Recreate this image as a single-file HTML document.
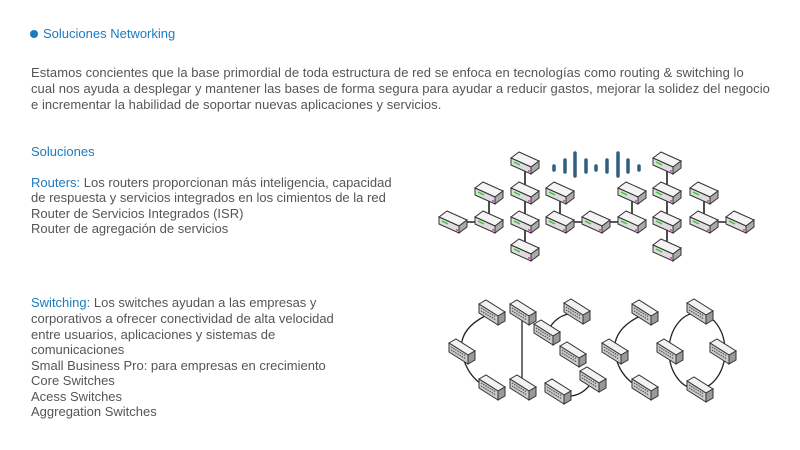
<!DOCTYPE html>
<html><head><meta charset="utf-8"><style>
body{margin:0;width:800px;height:450px;background:#fff;overflow:hidden;position:relative;font-family:"Liberation Sans",Arial,sans-serif;font-size:13px;color:#555}
.t{position:absolute;white-space:nowrap;line-height:16px}
.b{color:#1a7bbf}
svg{position:absolute;left:0;top:0}
</style></head><body>
<div class="t b" style="left:30px;top:26px;font-size:13px"><span style="display:inline-block;width:8px;height:8px;border-radius:50%;background:#1a7bbf;margin-right:5px;vertical-align:0"></span>Soluciones Networking</div>
<div class="t" style="left:31px;top:65px;letter-spacing:0.05px">Estamos concientes que la base primordial de toda estructura de red se enfoca en tecnologías como routing &amp; switching lo</div>
<div class="t" style="left:31px;top:81px;letter-spacing:0.05px">cual nos ayuda a desplegar y mantener las bases de forma segura para ayudar a reducir gastos, mejorar la solidez del negocio</div>
<div class="t" style="left:31px;top:97px;letter-spacing:0.05px">e incrementar la habilidad de soportar nuevas aplicaciones y servicios.</div>
<div class="t b" style="left:31px;top:144px">Soluciones</div>
<div class="t" style="left:31px;top:175px"><span class="b">Routers:</span> Los routers proporcionan más inteligencia, capacidad</div>
<div class="t" style="left:31px;top:190px">de respuesta y servicios integrados en los cimientos de la red</div>
<div class="t" style="left:31px;top:206px">Router de Servicios Integrados (ISR)</div>
<div class="t" style="left:31px;top:221px">Router de agregación de servicios</div>
<div class="t" style="left:31px;top:295px"><span class="b">Switching:</span> Los switches ayudan a las empresas y</div>
<div class="t" style="left:31px;top:311px">corporativos a ofrecer conectividad de alta velocidad</div>
<div class="t" style="left:31px;top:327px">entre usuarios, aplicaciones y sistemas de</div>
<div class="t" style="left:31px;top:342px">comunicaciones</div>
<div class="t" style="left:31px;top:358px">Small Business Pro: para empresas en crecimiento</div>
<div class="t" style="left:31px;top:373px">Core Switches</div>
<div class="t" style="left:31px;top:389px">Acess Switches</div>
<div class="t" style="left:31px;top:404px">Aggregation Switches</div>
<svg width="800" height="450">
<defs>
<g id="r">
<polygon points="-14,-5 -6,-11 14,-2 6,4" fill="#f4f4f4" stroke="#333" stroke-width="1"/>
<polygon points="-14,-5 6,4 6,11 -14,2" fill="#ddd" stroke="#333" stroke-width="1"/>
<polygon points="6,4 14,-2 14,5 6,11" fill="#aaa" stroke="#333" stroke-width="1"/>
<line x1="-11" y1="-1" x2="-5" y2="2" stroke="#3c3" stroke-width="1.5"/>
<circle cx="4" cy="8" r="1" fill="#d3d"/>
</g>
<g id="s">
<polygon points="-13,-9 -6,-13 13,-1 6,3" fill="#f2f2f2" stroke="#333"/>
<polygon points="-13,-9 6,3 6,12 -13,0" fill="#ccc" stroke="#333"/>
<polygon points="6,3 13,-1 13,8 6,12" fill="#999" stroke="#333"/>
<path d="M-11,-5 l15,9 M-11,-2 l15,9" stroke="#555" stroke-width="1.2" stroke-dasharray="1.5,1"/>
</g>
</defs>
<g stroke="#222" stroke-width="1.6" fill="none">
<path d="M489,193V222M453,222H489M525,163V250M560,193V222M560,222H632M632,193V222M667,163V250M704,193V222M704,222H740"/>
</g>
<g stroke="#2e5f80" stroke-width="3.5" stroke-linecap="round">
<path d="M554,166V170M565,160V172M575,153V176M586,160V172M596,166V170M607,160V172M618,153V176M628,160V172M639,166V170"/>
</g>
<use href="#r" x="525" y="163"/><use href="#r" x="667" y="163"/>
<use href="#r" x="489" y="193"/><use href="#r" x="525" y="193"/><use href="#r" x="560" y="193"/><use href="#r" x="632" y="193"/><use href="#r" x="667" y="193"/><use href="#r" x="704" y="193"/>
<use href="#r" x="453" y="222"/><use href="#r" x="489" y="222"/><use href="#r" x="525" y="222"/><use href="#r" x="560" y="222"/><use href="#r" x="596" y="222"/><use href="#r" x="632" y="222"/><use href="#r" x="667" y="222"/><use href="#r" x="704" y="222"/><use href="#r" x="740" y="222"/>
<use href="#r" x="525" y="250"/><use href="#r" x="667" y="250"/>
<g stroke="#222" stroke-width="1.3" fill="none">
<path d="M485,316 Q458,330 462,352 Q466,376 487,388"/>
<path d="M522,318V388"/>
<path d="M547,333 Q555,314 575,313"/>
<path d="M560,395 Q580,400 592,382"/>
<path d="M640,316 Q612,330 615,352 Q618,376 640,388"/>
<ellipse cx="697" cy="351" rx="28" ry="38"/>
</g>
<use href="#s" x="492" y="313"/><use href="#s" x="462" y="352"/><use href="#s" x="492" y="388"/>
<use href="#s" x="523" y="313"/><use href="#s" x="523" y="388"/>
<use href="#s" x="547" y="333"/><use href="#s" x="577" y="312"/><use href="#s" x="573" y="355"/><use href="#s" x="558" y="392"/><use href="#s" x="593" y="380"/>
<use href="#s" x="645" y="313"/><use href="#s" x="615" y="352"/><use href="#s" x="645" y="388"/>
<use href="#s" x="700" y="312"/><use href="#s" x="670" y="352"/><use href="#s" x="723" y="352"/><use href="#s" x="700" y="390"/>
</svg>
</body></html>
